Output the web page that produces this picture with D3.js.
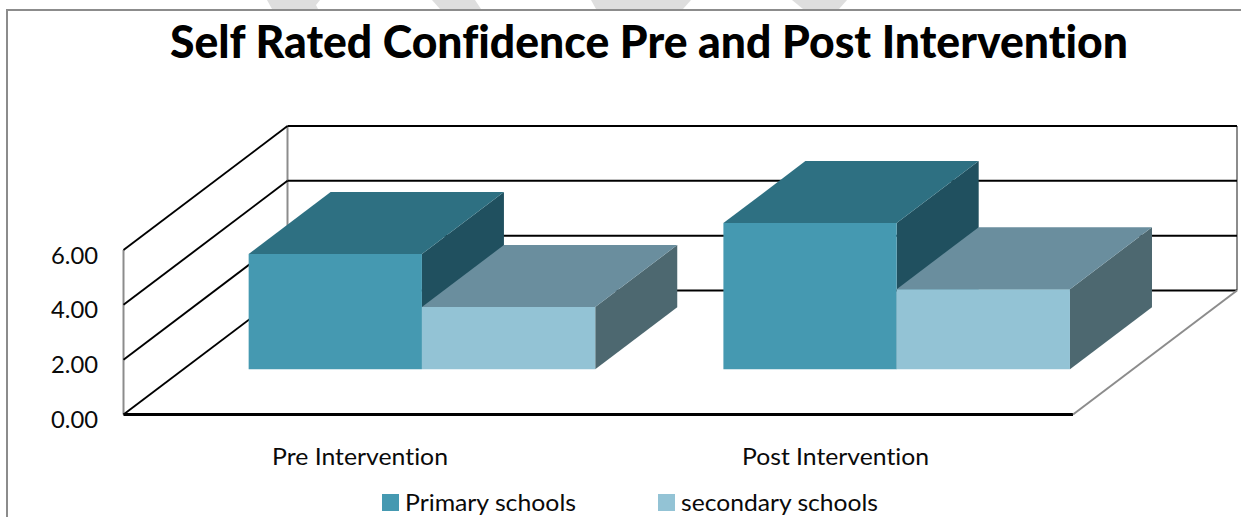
<!DOCTYPE html>
<html><head><meta charset="utf-8">
<script src="https://cdn.jsdelivr.net/npm/d3@7"></script>
<style>html,body{margin:0;padding:0;background:#fff;overflow:hidden}svg{display:block}text{font-family:Lato,"Open Sans",sans-serif;fill:#0a0a0a;font-variant-ligatures:none}</style>
</head><body><svg id="c" width="1241" height="517"></svg>
<script>
const titleText = "Self Rated Confidence Pre and Post Intervention";
const categories = ["Pre Intervention", "Post Intervention"];
const seriesNames = ["Primary schools", "secondary schools"];
const primaryValues = [4.2, 5.33];
const secondaryValues = [2.27, 2.92];
const tickValues = [0, 2, 4, 6];
const frontColors = ["#4599b1", "#93c3d5"];
const topColors = ["#2e7082", "#6a8e9e"];
const sideColors = ["#20505f", "#4d6870"];

const svg = d3.select("#c");
const x = d3.scaleBand().domain(categories).range([123.5, 1073]).paddingInner(0.27).paddingOuter(0.135);
const xs = d3.scaleBand().domain(seriesNames).range([0, x.bandwidth()]);
const y = d3.scaleLinear().domain([0, 6]).range([414.5, 250]);
const zx = d3.scaleLinear().domain([0, 1]).range([0, 164]);
const zy = d3.scaleLinear().domain([0, 1]).range([0, -124]);
const P = (px, v, z) => [px + zx(z), y(v) + zy(z)];
const poly = pts => "M" + pts.map(p => p.join(",")).join("L") + "Z";
const line = (a, b, color, w) => svg.append("line").attr("x1", a[0]).attr("y1", a[1]).attr("x2", b[0]).attr("y2", b[1]).attr("stroke", color).attr("stroke-width", w);

// faint watermark remnants above the chart frame
[[267,0,320,0,316,5,318,9,272,9],[432,0,475,0,481,9,440,9],[591,0,691,0,683,9,596,9],[792,0,847,0,839,9,803,9]]
  .forEach(s => svg.append("polygon").attr("points", s.join(" ")).attr("fill", "#dedede"));

// chart frame
svg.append("path").attr("d", "M7,517V10H1241").attr("fill", "none").attr("stroke", "#8c8c8c").attr("stroke-width", 2);

svg.append("text").attr("x", 649).attr("y", 58).attr("text-anchor", "middle").attr("font-size", 46).attr("font-weight", 900)
  .attr("textLength", 958).attr("lengthAdjust", "spacingAndGlyphs").style("fill", "#000").text(titleText);

// walls
const xL = x.range()[0], xR = x.range()[1];
line(P(xL, 0, 0), P(xL, 6, 0), "#8c8c8c", 2);
line(P(xL, 0, 1), P(xL, 6, 1), "#8c8c8c", 2);
line(P(xR, 0, 1), P(xR, 6, 1), "#8c8c8c", 2);
tickValues.forEach(t => {
  line(P(xL, t, 0), P(xL, t, 1), "#000", 1.9);
  line(P(xL, t, 1), P(xR, t, 1), "#000", 2);
});
line(P(xL, 0, 0), P(xR, 0, 0), "#000", 3);
line(P(xR, 0, 0), P(xR, 0, 1), "#8c8c8c", 2);

// y axis labels
svg.append("g").selectAll("text").data(tickValues).join("text")
  .attr("x", 51).attr("y", d => y(d) + 13.5).attr("font-size", 24)
  .attr("textLength", 47).attr("lengthAdjust", "spacingAndGlyphs")
  .text(d => d3.format(".2f")(d));

// 3D bars
const z0 = 0.365, z1 = 0.865, barShift = 1.2;
const bars = [primaryValues, secondaryValues];
seriesNames.forEach((s, si) => {
  const g = svg.append("g").attr("class", "series");
  categories.forEach((c, ci) => {
    const a = x(c) + xs(s) + barShift, b = a + xs.bandwidth(), v = bars[si][ci];
    g.append("path").attr("fill", sideColors[si]).attr("d", poly([P(b, 0, z0), P(b, 0, z1), P(b, v, z1), P(b, v, z0)]));
    g.append("path").attr("fill", topColors[si]).attr("d", poly([P(a, v, z0), P(a, v, z1), P(b, v, z1), P(b, v, z0)]));
    g.append("path").attr("fill", frontColors[si]).attr("d", poly([P(a, 0, z0), P(a, v, z0), P(b, v, z0), P(b, 0, z0)]));
  });
});

// category labels
const catWidths = [176, 187];
svg.append("g").selectAll("text").data(categories).join("text")
  .attr("x", (d, i) => [272, 742][i]).attr("y", 465).attr("font-size", 24)
  .attr("textLength", (d, i) => catWidths[i]).attr("lengthAdjust", "spacingAndGlyphs").text(d => d);

// legend
const legendX = [382, 658], legendW = [171, 197];
seriesNames.forEach((s, i) => {
  svg.append("rect").attr("x", legendX[i]).attr("y", 494).attr("width", 17).attr("height", 17).attr("fill", frontColors[i]);
  svg.append("text").attr("x", legendX[i] + 23).attr("y", 511).attr("font-size", 24)
    .attr("textLength", legendW[i]).attr("lengthAdjust", "spacingAndGlyphs").text(s);
});
</script></body></html>
